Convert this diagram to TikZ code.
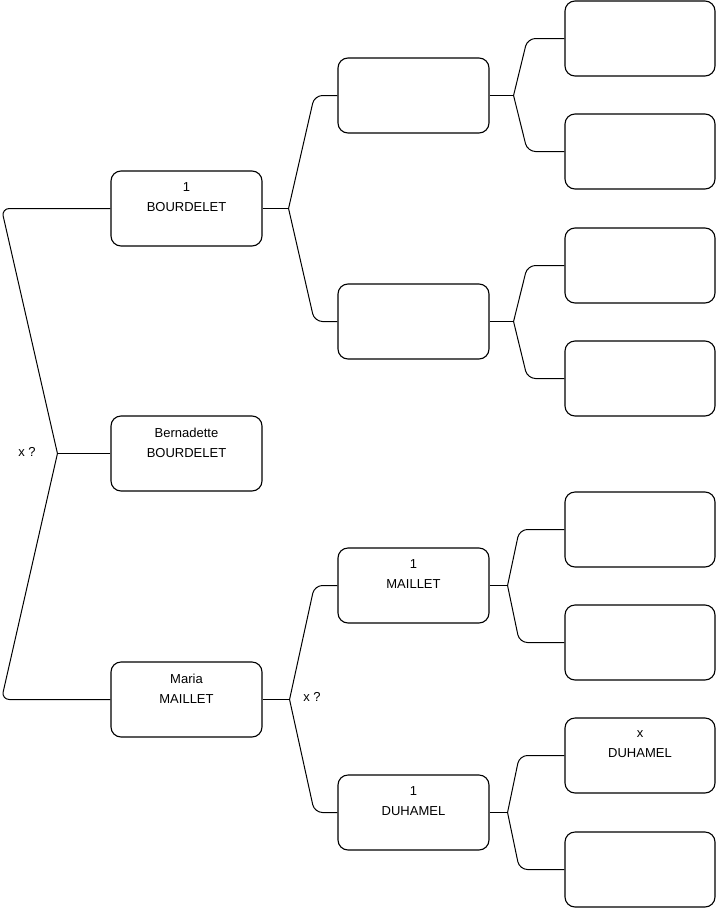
\documentclass[tikz,border=0pt]{standalone}
\usepackage{fontspec}
\setmainfont{Liberation Sans}
\begin{document}
\begin{tikzpicture}[x=1pt,y=-1pt,
  box/.style={draw=black, line width=1.1pt, rounded corners=10pt, minimum width=151pt, minimum height=75pt, inner sep=0pt, align=center, font=\fontsize{13}{20}\selectfont},
  conn/.style={draw=black, line width=1pt, rounded corners=8pt},
  lbl/.style={font=\fontsize{13}{16}\selectfont, inner sep=0pt}]
\useasboundingbox (0,0) rectangle (716,908);
% column 1
\node[box] (A) at (186.5,208.5) {1\\BOURDELET\\[-4pt]\strut};
\node[box] (B) at (186.5,453.5) {Bernadette\\BOURDELET\\[-4pt]\strut};
\node[box] (C) at (186.5,699.5) {Maria\\MAILLET\\[-4pt]\strut};
% column 2
\node[box] (D) at (413.5,95.5) {};
\node[box] (E) at (413.5,321.5) {};
\node[box] (F) at (413.5,585.5) {1\\MAILLET\\[-4pt]\strut};
\node[box] (G) at (413.5,812.5) {1\\DUHAMEL\\[-4pt]\strut};
% column 3
\node[box, minimum width=150pt] (H1) at (640,38.5) {};
\node[box, minimum width=150pt] (H2) at (640,151.5) {};
\node[box, minimum width=150pt] (H3) at (640,265.5) {};
\node[box, minimum width=150pt] (H4) at (640,378.5) {};
\node[box, minimum width=150pt] (H5) at (640,529.5) {};
\node[box, minimum width=150pt] (H6) at (640,642.5) {};
\node[box, minimum width=150pt] (H7) at (640,755.5) {x\\DUHAMEL\\[-4pt]\strut};
\node[box, minimum width=150pt] (H8) at (640,869.5) {};
% main connector
\draw[conn] (B.west) -- ++(-53,0) coordinate (jB);
\draw[conn] (jB) -- ([xshift=-109]A.west) -- (A.west);
\draw[conn] (jB) -- ([xshift=-109]C.west) -- (C.west);
\node[lbl] (l1) at (27,452) {x ?};
% A -> D,E
\draw[conn] (A.east) -- ++(26,0) coordinate (jA);
\draw[conn] (jA) -- ([xshift=-23]D.west) -- (D.west);
\draw[conn] (jA) -- ([xshift=-23]E.west) -- (E.west);
% C -> F,G
\draw[conn] (C.east) -- ++(27,0) coordinate (jC);
\draw[conn] (jC) -- ([xshift=-23]F.west) -- (F.west);
\draw[conn] (jC) -- ([xshift=-23]G.west) -- (G.west);
\node[lbl] (l2) at (312,697) {x ?};
% D -> H1,H2
\draw[conn] (D.east) -- ++(24,0) coordinate (jD);
\draw[conn] (jD) -- ([xshift=-37]H1.west) -- (H1.west);
\draw[conn] (jD) -- ([xshift=-37]H2.west) -- (H2.west);
% E -> H3,H4
\draw[conn] (E.east) -- ++(24,0) coordinate (jE);
\draw[conn] (jE) -- ([xshift=-37]H3.west) -- (H3.west);
\draw[conn] (jE) -- ([xshift=-37]H4.west) -- (H4.west);
% F -> H5,H6
\draw[conn] (F.east) -- ++(18,0) coordinate (jF);
\draw[conn] (jF) -- ([xshift=-45]H5.west) -- (H5.west);
\draw[conn] (jF) -- ([xshift=-45]H6.west) -- (H6.west);
% G -> H7,H8
\draw[conn] (G.east) -- ++(18,0) coordinate (jG);
\draw[conn] (jG) -- ([xshift=-45]H7.west) -- (H7.west);
\draw[conn] (jG) -- ([xshift=-45]H8.west) -- (H8.west);
\end{tikzpicture}
\end{document}
